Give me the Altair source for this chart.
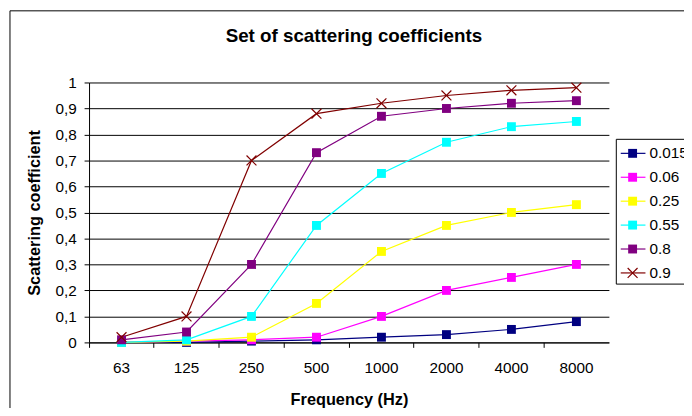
import altair as alt
import pandas as pd

# ---- data ----
freqs = ["63", "125", "250", "500", "1000", "2000", "4000", "8000"]
series_names = ["0.015", "0.06", "0.25", "0.55", "0.8", "0.9"]
s_0015 = [0.0, 0.0, 0.005, 0.01, 0.02, 0.03, 0.05, 0.08]
s_006 = [0.0, 0.005, 0.01, 0.02, 0.10, 0.20, 0.25, 0.30]
s_025 = [0.0, 0.005, 0.02, 0.15, 0.35, 0.45, 0.50, 0.53]
s_055 = [0.0, 0.01, 0.10, 0.45, 0.65, 0.77, 0.83, 0.85]
s_08 = [0.01, 0.04, 0.30, 0.73, 0.87, 0.90, 0.92, 0.93]
s_09 = [0.02, 0.10, 0.70, 0.88, 0.92, 0.95, 0.97, 0.98]
series_values = [s_0015, s_006, s_025, s_055, s_08, s_09]
colors = ["#000080", "#FF00FF", "#FFFF00", "#00FFFF", "#800080", "#800000"]
y_ticks = [0, 0.1, 0.2, 0.3, 0.4, 0.5, 0.6, 0.7, 0.8, 0.9, 1.0]
chart_title = "Set of scattering coefficients"

rows = []
for name, vals in zip(series_names, series_values):
    for f, v in zip(freqs, vals):
        rows.append({"series": name, "freq": f, "value": v})
df = pd.DataFrame(rows)
legend_df = pd.DataFrame({"series": series_names})
one = pd.DataFrame({"k": [0]})

FONT = "Liberation Sans"
XPATH = "M-1,-1L1,1M-1,1L1,-1"

color = alt.Color("series:N", scale=alt.Scale(domain=series_names, range=colors), legend=None)

x_enc = alt.X(
    "freq:O",
    sort=freqs,
    scale=alt.Scale(type="band", domain=freqs, paddingInner=0, paddingOuter=0),
    axis=alt.Axis(
        title="Frequency (Hz)", labelAngle=0, bandPosition=0, tickSize=5,
        labelPadding=13, labelFontSize=15.5, labelFont=FONT, labelColor="black",
        domainColor="black", tickColor="black", grid=False,
        titleFont=FONT, titleFontSize=16.5, titleFontWeight="bold", titleColor="black",
        titleX=263, titleY=58, titleBaseline="middle", titleAlign="center",
    ),
)
y_enc = alt.Y(
    "value:Q",
    scale=alt.Scale(domain=[0, 1], nice=False, zero=True),
    axis=alt.Axis(
        values=y_ticks, labelExpr="replace(format(datum.value, '~g'), '.', ',')",
        tickSize=5, labelPadding=8, labelFontSize=15.5, labelFont=FONT, labelColor="black",
        domainColor="black", tickColor="black", grid=True, gridColor="black",
        gridOpacity=1, gridWidth=1,
        title="Scattering coefficient", titleFont=FONT, titleFontSize=16.5,
        titleFontWeight="bold", titleColor="black", titleX=-55, titleY=131.5,
        titleAngle=-90, titleAlign="center", titleBaseline="middle",
    ),
)

frame = alt.Chart(one).mark_rect(fillOpacity=0, stroke="black", strokeWidth=1).encode(
    x=alt.value(-80), x2=alt.value(700), y=alt.value(-72.5), y2=alt.value(420)
)
title_mark = alt.Chart(one).mark_text(
    font=FONT, fontSize=19, fontWeight="bold", color="black",
    align="center", baseline="middle",
).encode(x=alt.value(268), y=alt.value(-47), text=alt.value(chart_title))

lines = alt.Chart(df).mark_line(strokeWidth=1.2).encode(
    x=x_enc, y=y_enc, color=color, detail="series:N"
)
squares = alt.Chart(df).transform_filter("datum.series != '0.9'").mark_point(
    shape="square", filled=True, size=81, opacity=1
).encode(x=x_enc, y=y_enc, color=color)
crosses = alt.Chart(df).transform_filter("datum.series == '0.9'").mark_point(
    shape=XPATH, filled=False, size=100, opacity=1, strokeWidth=1.2
).encode(x=x_enc, y=y_enc, color=color)

main = alt.layer(lines, squares, crosses)

ly = alt.Y("series:N", sort=series_names,
           scale=alt.Scale(type="point", domain=series_names, range=[71.7, 192.7], padding=0),
           axis=None)
leg_box = alt.Chart(one).mark_rect(fill="white", stroke="black", strokeWidth=1).encode(
    x=alt.value(533.5), x2=alt.value(700), y=alt.value(57.5), y2=alt.value(204)
)
leg_lines = alt.Chart(legend_df).mark_rule(strokeWidth=1.2).encode(
    x=alt.value(538), x2=alt.value(563), y=ly, color=color
)
leg_sq = alt.Chart(legend_df).transform_filter("datum.series != '0.9'").mark_point(
    shape="square", filled=True, size=81, opacity=1
).encode(x=alt.value(550), y=ly, color=color)
leg_x = alt.Chart(legend_df).transform_filter("datum.series == '0.9'").mark_point(
    shape=XPATH, filled=False, size=100, opacity=1, strokeWidth=1.2
).encode(x=alt.value(550), y=ly, color=color)
leg_text = alt.Chart(legend_df).mark_text(
    align="left", baseline="middle", font=FONT, fontSize=15.5, color="black"
).encode(x=alt.value(567), y=ly, text="series:N")
legend = alt.layer(leg_box, leg_lines, leg_sq, leg_x, leg_text)

chart = alt.layer(frame, title_mark, main, legend).resolve_scale(y="independent").properties(
    width=526,
    height=263,
    padding={"left": 82, "top": 73, "right": 76, "bottom": 64},
    autosize=alt.AutoSizeParams(type="none"),
    background="white",
).configure_view(stroke=None)

chart.save("out.html", embed_options={"renderer": "svg", "actions": False})
